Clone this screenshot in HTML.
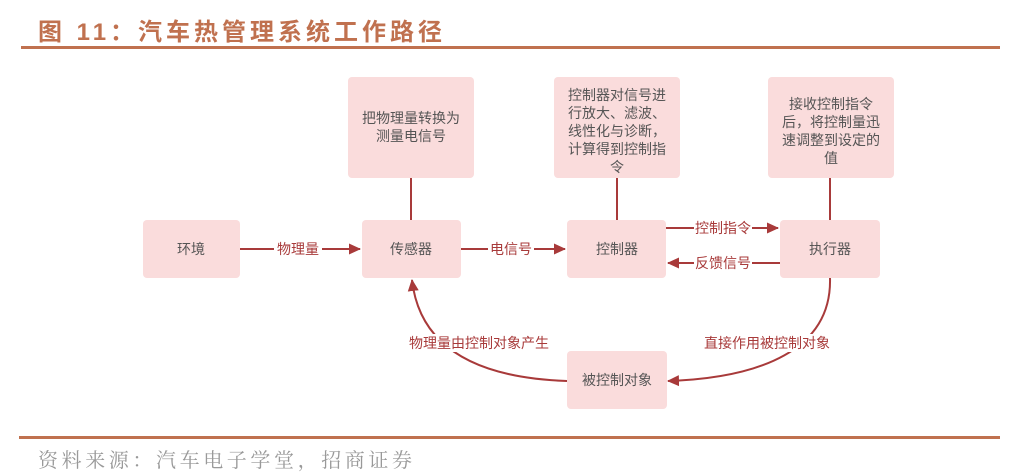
<!DOCTYPE html>
<html><head><meta charset="utf-8"><style>
body{margin:0;background:#fff;width:1021px;height:476px;overflow:hidden;position:relative;font-family:"Liberation Sans","Noto Sans CJK SC",sans-serif}
.t{position:absolute;left:38px;top:12px;font-size:24px;font-weight:bold;color:#c0714f;font-family:"Liberation Sans","Noto Sans CJK SC",sans-serif;letter-spacing:4px}
.l1{position:absolute;left:21px;top:46px;width:979px;height:3px;background:#c0714f}
.l2{position:absolute;left:19px;top:436px;width:981px;height:3px;background:#c0714f}
.s{position:absolute;left:38px;top:444px;font-size:20px;color:#999;font-family:"Noto Serif CJK SC",serif;letter-spacing:3.6px}
</style></head><body>
<div class="t">图 11：汽车热管理系统工作路径</div>
<div class="l1"></div>
<svg width="1021" height="476" style="position:absolute;left:0;top:0" font-family="Liberation Sans, Noto Sans CJK SC, sans-serif">
<defs><marker id="a" markerWidth="12" markerHeight="12" refX="11" refY="6" orient="auto" markerUnits="userSpaceOnUse"><path d="M0,0.5 L12,6 L0,11.5 z" fill="#a83a3a"/></marker></defs>
<g fill="#fadcdc">
<rect x="143" y="220" width="97" height="58" rx="4"/>
<rect x="362" y="220" width="99" height="58" rx="4"/>
<rect x="567" y="220" width="99" height="58" rx="4"/>
<rect x="780" y="220" width="100" height="58" rx="4"/>
<rect x="348" y="77" width="126" height="101" rx="4"/>
<rect x="554" y="77" width="126" height="101" rx="4"/>
<rect x="768" y="77" width="126" height="101" rx="4"/>
<rect x="567" y="351" width="100" height="58" rx="4"/>
</g>
<g stroke="#a83a3a" stroke-width="2" fill="none">
<line x1="411" y1="178" x2="411" y2="220"/>
<line x1="617" y1="178" x2="617" y2="220"/>
<line x1="830" y1="178" x2="830" y2="220"/>
<line x1="240" y1="249" x2="360" y2="249" marker-end="url(#a)"/>
<line x1="461" y1="249" x2="565" y2="249" marker-end="url(#a)"/>
<line x1="666" y1="228" x2="778" y2="228" marker-end="url(#a)"/>
<line x1="780" y1="263" x2="668" y2="263" marker-end="url(#a)"/>
<path d="M830,278 C832,350 760,378 668,381" marker-end="url(#a)"/>
<path d="M567,381 C480,378 420,350 412,280" marker-end="url(#a)"/>
</g>
<g fill="#fff">
<rect x="274" y="240" width="48" height="18"/>
<rect x="488" y="240" width="46" height="18"/>
<rect x="694" y="219" width="58" height="18"/>
<rect x="694" y="254" width="58" height="18"/>
<rect x="404" y="334" width="150" height="18"/>
<rect x="700" y="334" width="134" height="18"/>
</g>
<g fill="#a83a3a" font-size="14" text-anchor="middle">
<text x="298" y="254">物理量</text>
<text x="511" y="254">电信号</text>
<text x="723" y="233">控制指令</text>
<text x="723" y="268">反馈信号</text>
<text x="479" y="348">物理量由控制对象产生</text>
<text x="767" y="348">直接作用被控制对象</text>
</g>
<g fill="#555" font-size="14" text-anchor="middle">
<text x="191" y="254">环境</text>
<text x="411" y="254">传感器</text>
<text x="617" y="254">控制器</text>
<text x="830" y="254">执行器</text>
<text x="617" y="385">被控制对象</text>
<text x="411" y="123">把物理量转换为</text>
<text x="411" y="141">测量电信号</text>
<text x="617" y="100">控制器对信号进</text>
<text x="617" y="118">行放大、滤波、</text>
<text x="617" y="136">线性化与诊断，</text>
<text x="617" y="154">计算得到控制指</text>
<text x="617" y="172">令</text>
<text x="831" y="109">接收控制指令</text>
<text x="831" y="127">后，将控制量迅</text>
<text x="831" y="145">速调整到设定的</text>
<text x="831" y="163">值</text>
</g>
</svg>
<div class="l2"></div>
<div class="s">资料来源：汽车电子学堂，招商证券</div>
</body></html>
